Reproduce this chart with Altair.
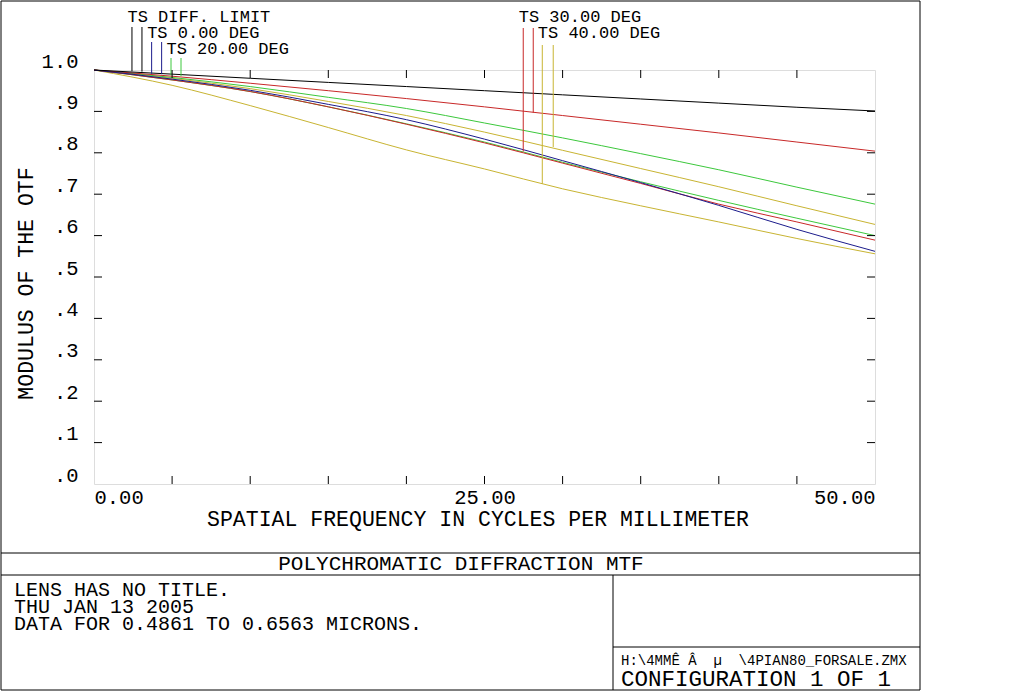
import altair as alt
import pandas as pd

# ---------------- data ----------------
freq = [0, 5, 10, 15, 20, 25, 30, 35, 40, 45, 50]

diff_limit = [1.0, 0.990, 0.980, 0.970, 0.960, 0.950, 0.940, 0.930, 0.920, 0.910, 0.901]
deg0 = [1.0, 0.978, 0.951, 0.917, 0.880, 0.833, 0.781, 0.728, 0.673, 0.615, 0.562]
deg20_a = [1.0, 0.982, 0.960, 0.934, 0.907, 0.872, 0.836, 0.798, 0.759, 0.717, 0.676]
deg20_b = [1.0, 0.976, 0.948, 0.911, 0.870, 0.826, 0.777, 0.730, 0.685, 0.642, 0.600]
deg30_a = [1.0, 0.976, 0.948, 0.911, 0.869, 0.824, 0.775, 0.726, 0.676, 0.633, 0.589]
deg30_b = [1.0, 0.985, 0.968, 0.950, 0.931, 0.911, 0.890, 0.869, 0.848, 0.826, 0.804]
deg40_a = [1.0, 0.963, 0.914, 0.861, 0.807, 0.761, 0.713, 0.672, 0.633, 0.593, 0.556]
deg40_b = [1.0, 0.980, 0.955, 0.924, 0.890, 0.850, 0.806, 0.762, 0.718, 0.672, 0.627]

series_names = ["40a", "40b", "20a", "20b", "30a", "30b", "0", "diff"]
series_values = [deg40_a, deg40_b, deg20_a, deg20_b, deg30_a, deg30_b, deg0, diff_limit]
series_group = ["40", "40", "20", "20", "30", "30", "0", "diff"]

group_keys = ["diff", "0", "20", "30", "40"]
group_labels = ["TS DIFF. LIMIT", "TS 0.00 DEG", "TS 20.00 DEG", "TS 30.00 DEG", "TS 40.00 DEG"]
group_colors = ["#000000", "#1c1c8c", "#3cc83c", "#c82828", "#c8b432"]

# leader lines (two per label): frequency where they hit the curve, and the curve value
leader_freq = [[2.43, 3.07], [3.69, 4.33], [4.93, 5.57], [27.48, 28.12], [28.70, 29.40]]
leader_end = [[0.997, 0.996], [0.991, 0.990], [0.987, 0.985], [0.803, 0.897], [0.725, 0.814]]

x_tick_labels = [0, 25, 50]
y_tick_labels = [round(0.1 * i, 1) for i in range(11)]
inner_x_ticks = [5, 10, 15, 20, 25, 30, 35, 40, 45]
inner_y_ticks = [round(0.1 * i, 1) for i in range(1, 10)]

title_text = "POLYCHROMATIC DIFFRACTION MTF"
info_lines = ["LENS HAS NO TITLE.", "THU JAN 13 2005", "DATA FOR 0.4861 TO 0.6563 MICRONS."]
file_text = "H:\\4MM\u00ca \u00c2\u00a0\u00a0\u00b5\u00a0\u00a0\\4PIAN80_FORSALE.ZMX"
config_text = "CONFIGURATION 1 OF 1"

# ---------------- layout (pixels) ----------------
W, H = 781, 414
OX, OY = 94, 70          # plot origin on the page
FONT = "Liberation Mono"

leader_top = [27, 42, 58, 28, 45]       # absolute y where leaders start
label_base = [22, 38, 54, 22, 38]       # absolute baseline of labels

rows = []
for name, vals, grp in zip(series_names, series_values, series_group):
    for f, v in zip(freq, vals):
        rows.append({"freq": f, "mtf": v, "series": name, "group": grp})
df = pd.DataFrame(rows)

xscale = alt.Scale(domain=[0, 50], nice=False, zero=False)
yscale = alt.Scale(domain=[0, 1], nice=False, zero=False)

color_scale = alt.Scale(domain=group_keys, range=group_colors)

x_axis = alt.Axis(
    values=x_tick_labels, format=".2f", ticks=False, domain=False, grid=False,
    labelFlush=True, labelOverlap=False, labelFontSize=20.5, labelPadding=3,
    labelColor="black", labelFont=FONT,
    title="SPATIAL FREQUENCY IN CYCLES PER MILLIMETER", titleFont=FONT,
    titleFontSize=21.5, titleFontWeight="normal", titleColor="black",
    titleX=383.5, titleY=41, titleBaseline="alphabetic", titleAlign="center",
)
y_axis = alt.Axis(
    values=y_tick_labels,
    labelExpr="datum.value >= 1 ? '1.0' : '.' + format(datum.value * 10, '.0f')",
    ticks=False, domain=False, grid=False, labelFlush=False, labelOverlap=False,
    labelFontSize=20.5, labelPadding=16, labelBaseline="alphabetic", labelOffset=-3,
    labelColor="black", labelFont=FONT,
    title="MODULUS OF THE OTF", titleFont=FONT, titleFontSize=21.5,
    titleFontWeight="normal", titleColor="black", titleAngle=270,
    titleX=-62, titleY=213, titleBaseline="alphabetic", titleAlign="center",
)

lines = alt.Chart(df).mark_line(strokeWidth=1, interpolate="monotone", clip=False).encode(
    x=alt.X("freq:Q", scale=xscale, axis=x_axis),
    y=alt.Y("mtf:Q", scale=yscale, axis=y_axis),
    color=alt.Color("group:N", scale=color_scale, legend=None),
    detail="series:N",
)

layers = [lines]

one = pd.DataFrame({"k": [0]})

# leader lines and labels
for gi, key in enumerate(group_keys):
    ldf = pd.DataFrame({"freq": leader_freq[gi], "mtf": leader_end[gi]})
    layers.append(
        alt.Chart(ldf).mark_rule(strokeWidth=1, color=group_colors[gi], clip=False).encode(
            x=alt.X("freq:Q", scale=xscale),
            y=alt.Y("mtf:Q", scale=yscale),
            y2=alt.value(leader_top[gi] - OY),
        )
    )
    tdf = pd.DataFrame({"freq": [leader_freq[gi][0]], "label": [group_labels[gi]]})
    layers.append(
        alt.Chart(tdf).mark_text(
            font=FONT, fontSize=17, align="left", baseline="alphabetic",
            dx=-4.5, color="black", clip=False,
        ).encode(
            x=alt.X("freq:Q", scale=xscale),
            y=alt.value(label_base[gi] - OY),
            text="label:N",
        )
    )

# inward ticks on all four sides of the plot frame
TL = 8
ytdf = pd.DataFrame({"mtf": inner_y_ticks})
xtdf = pd.DataFrame({"freq": inner_x_ticks})
layers.append(alt.Chart(ytdf).mark_rule(color="black", strokeWidth=1).encode(
    x=alt.value(0), x2=alt.value(TL), y=alt.Y("mtf:Q", scale=yscale)))
layers.append(alt.Chart(ytdf).mark_rule(color="black", strokeWidth=1).encode(
    x=alt.value(W - TL), x2=alt.value(W), y=alt.Y("mtf:Q", scale=yscale)))
layers.append(alt.Chart(xtdf).mark_rule(color="black", strokeWidth=1).encode(
    x=alt.X("freq:Q", scale=xscale), y=alt.value(H - TL), y2=alt.value(H)))
layers.append(alt.Chart(xtdf).mark_rule(color="black", strokeWidth=1).encode(
    x=alt.X("freq:Q", scale=xscale), y=alt.value(0), y2=alt.value(TL)))

# page frame / title block (absolute pixel segments)
segments = [
    (1, 1, 920, 1), (920, 1, 920, 690), (1, 690, 920, 690), (1, 1, 1, 690),
    (1, 553, 920, 553), (1, 575, 920, 575), (613, 575, 613, 690), (613, 647, 920, 647),
]
for (xa, ya, xb, yb) in segments:
    layers.append(alt.Chart(one).mark_rule(color="black", strokeWidth=1, clip=False).encode(
        x=alt.value(xa - OX), x2=alt.value(xb - OX),
        y=alt.value(ya - OY), y2=alt.value(yb - OY),
    ))

# title block texts
block_texts = [
    (title_text, 461, 570, "center", 21),
    (info_lines[0], 14, 596, "left", 20),
    (info_lines[1], 14, 613, "left", 20),
    (info_lines[2], 14, 630, "left", 20),
    (file_text, 621, 665, "left", 14),
    (config_text, 621, 686, "left", 22.5),
]
for (txt, xa, ya, al, fs) in block_texts:
    layers.append(alt.Chart(one).mark_text(
        font=FONT, fontSize=fs, align=al, baseline="alphabetic", color="black", clip=False,
    ).encode(
        x=alt.value(xa - OX), y=alt.value(ya - OY), text=alt.value(txt),
    ))

chart = alt.layer(*layers).properties(
    width=W, height=H,
    autosize=alt.AutoSizeParams(type="none"),
    padding={"left": OX, "top": OY, "right": 1024 - OX - W, "bottom": 692 - OY - H},
    background="white",
).configure_view(
    stroke="black", strokeWidth=1
).configure(font=FONT)

chart.save("out.html", embed_options={"renderer": "svg", "actions": False})
